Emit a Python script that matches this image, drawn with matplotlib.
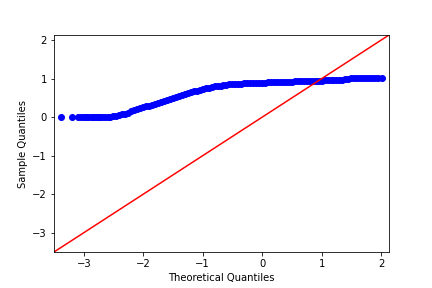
import matplotlib
matplotlib.use("Agg")
import matplotlib.pyplot as plt

# theoretical quantiles (x) and sample quantiles (y)
tail_x = [-3.39, -3.19, -3.10, -3.05, -3.00, -2.96, -2.92, -2.88, -2.85,
          -2.82, -2.79, -2.76, -2.73]
tail_y = [0.0] * len(tail_x)

body_x = [-2.70, -2.65, -2.60, -2.55, -2.50, -2.45, -2.40, -2.35, -2.30, -2.25,
          -2.20, -2.15, -2.10, -2.05, -2.00, -1.95, -1.90, -1.85, -1.80, -1.75,
          -1.70, -1.65, -1.60, -1.55, -1.50, -1.45, -1.40, -1.35, -1.30, -1.25,
          -1.20, -1.15, -1.10, -1.05, -1.00, -0.95, -0.90, -0.85, -0.80, -0.75,
          -0.70, -0.65, -0.60, -0.55, -0.50, -0.45, -0.40, -0.35, -0.30, -0.25,
          -0.20, -0.15, -0.10, -0.05, 0.00, 0.05, 0.10, 0.15, 0.20, 0.25,
          0.30, 0.35, 0.40, 0.45, 0.50, 0.55, 0.60, 0.65, 0.70, 0.75,
          0.80, 0.85, 0.90, 0.95, 1.00, 1.05, 1.10, 1.15, 1.20, 1.25,
          1.30, 1.35, 1.40, 1.45, 1.50, 1.55, 1.60, 1.65, 1.70, 1.75,
          1.80, 1.85, 1.90, 1.95, 2.02]
body_y = [0.00, 0.00, 0.01, 0.01, 0.02, 0.03, 0.05, 0.07, 0.09, 0.12,
          0.15, 0.18, 0.21, 0.23, 0.26, 0.28, 0.30, 0.32, 0.35, 0.37,
          0.40, 0.42, 0.45, 0.47, 0.49, 0.52, 0.55, 0.58, 0.60, 0.63,
          0.65, 0.67, 0.69, 0.71, 0.73, 0.75, 0.77, 0.78, 0.80, 0.81,
          0.82, 0.83, 0.84, 0.85, 0.855, 0.86, 0.865, 0.87, 0.875, 0.88,
          0.88, 0.885, 0.89, 0.89, 0.895, 0.90, 0.905, 0.91, 0.91, 0.915,
          0.915, 0.92, 0.92, 0.925, 0.925, 0.93, 0.93, 0.935, 0.935, 0.94,
          0.94, 0.945, 0.945, 0.95, 0.95, 0.955, 0.96, 0.96, 0.965, 0.97,
          0.97, 0.975, 0.99, 1.00, 1.005, 1.01, 1.01, 1.01, 1.01, 1.01,
          1.01, 1.01, 1.01, 1.01, 1.01]

lims = [-3.5, 2.13]

fig = plt.figure(figsize=(6, 4), dpi=72)
ax = fig.add_axes([0.125, 0.125, 0.775, 0.753])

ax.plot(tail_x + body_x, tail_y + body_y, "bo", markersize=6)
ax.plot(lims, lims, "r", linewidth=1.5)

ax.set_xlim(lims)
ax.set_ylim(lims)
ax.set_xticks([-3, -2, -1, 0, 1, 2])
ax.set_yticks([-3, -2, -1, 0, 1, 2])
ax.set_xlabel("Theoretical Quantiles")
ax.set_ylabel("Sample Quantiles")

fig.savefig("out.png", dpi=72)
